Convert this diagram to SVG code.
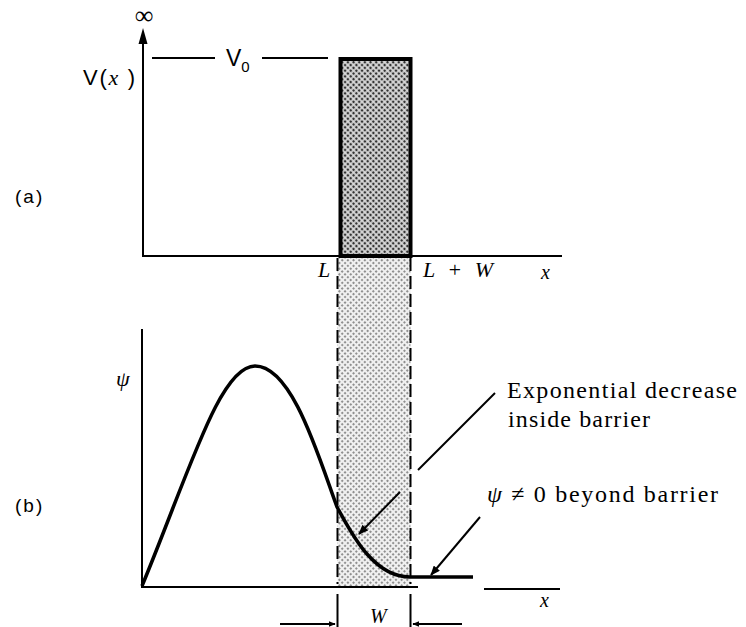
<svg xmlns="http://www.w3.org/2000/svg" width="746" height="627" viewBox="0 0 746 627">
<defs>
<pattern id="dark" patternUnits="userSpaceOnUse" width="4" height="4" patternTransform="rotate(45)">
<rect width="4" height="4" fill="#d8d8d8"/>
<circle cx="2" cy="2" r="1.35" fill="#333"/>
</pattern>
<pattern id="light" patternUnits="userSpaceOnUse" width="4" height="4" patternTransform="rotate(45)">
<rect width="4" height="4" fill="#f0f0f0"/>
<circle cx="2" cy="2" r="0.95" fill="#666"/>
</pattern>
<marker id="ah" viewBox="0 0 10 8" refX="9" refY="4" markerWidth="11" markerHeight="8" markerUnits="userSpaceOnUse" orient="auto">
<path d="M0,0 L10,4 L0,8 Z" fill="#000"/>
</marker>
<marker id="ahs" viewBox="0 0 10 8" refX="9" refY="4" markerWidth="7" markerHeight="6" markerUnits="userSpaceOnUse" orient="auto">
<path d="M0,0 L10,4 L0,8 Z" fill="#000"/>
</marker>
</defs>
<style>
.ln{stroke:#000;fill:none;stroke-width:2}
.sans{font-family:"Liberation Sans",Arial,sans-serif;fill:#000}
.serif{font-family:"Liberation Serif","Times New Roman",serif;fill:#000}
.it{font-style:italic}
</style>
<rect width="746" height="627" fill="#fff"/>

<g id="panel-a">
<rect id="barrier" x="340.5" y="59" width="70" height="197" fill="url(#dark)" stroke="#000" stroke-width="4"/>
<line class="ln" x1="143" y1="257" x2="143" y2="40"/>
<path d="M143,28 L138.5,44 L147.5,44 Z" fill="#000"/>
<line class="ln" x1="142" y1="256" x2="562" y2="256" stroke-width="2.5"/>
<line class="ln" x1="152" y1="58" x2="215" y2="58" stroke-width="1.8"/>
<line class="ln" x1="262" y1="58" x2="328" y2="58" stroke-width="1.8"/>
<text class="serif" x="144" y="24" font-size="26" text-anchor="middle">∞</text>
<text class="sans" x="83" y="85" font-size="22" textLength="52" lengthAdjust="spacing">V(<tspan class="serif it">x</tspan> )</text>
<text class="sans" x="226" y="66" font-size="23">V<tspan font-size="15" dy="6">0</tspan></text>
<text class="sans" x="15" y="203" font-size="19" letter-spacing="2">(a)</text>
<text class="serif it" x="318" y="277" font-size="22">L</text>
<text class="serif it" x="423" y="277" font-size="22" textLength="70" lengthAdjust="spacing">L + W</text>
<text class="serif it" x="541" y="279" font-size="20">x</text>
</g>

<g id="barrier-band">
<rect x="337.5" y="258" width="73" height="328" fill="url(#light)"/>
<line class="ln" x1="337.5" y1="258" x2="337.5" y2="584" stroke-dasharray="13,5"/>
<line class="ln" x1="410.5" y1="258" x2="410.5" y2="584" stroke-dasharray="13,5"/>
</g>

<g id="panel-b">
<line class="ln" x1="142" y1="329" x2="142" y2="587"/>
<line class="ln" x1="141" y1="587" x2="418" y2="587" stroke-width="2.5"/>
<line class="ln" x1="484" y1="589" x2="560" y2="589" stroke-width="2.5"/>
<path id="psi-curve" d="M142,586 C190,470 220,366 255,366 C292,366 318,455 337,507 C350,530 372,577 410,577 L473,577" fill="none" stroke="#000" stroke-width="3.5" stroke-linejoin="round"/>
<text class="serif it" x="116" y="386" font-size="22">ψ</text>
<text class="sans" x="15" y="512" font-size="19" letter-spacing="2">(b)</text>
<text class="serif it" x="540" y="607" font-size="20">x</text>
<text class="serif it" x="370" y="623" font-size="20">W</text>
</g>

<g id="labels">
<text class="serif" x="507" y="398" font-size="24" textLength="230" lengthAdjust="spacing">Exponential decrease</text>
<text class="serif" x="508" y="427" font-size="24" textLength="142" lengthAdjust="spacing">inside barrier</text>
<text class="serif" x="487" y="502" font-size="24" textLength="231" lengthAdjust="spacing"><tspan class="it">ψ</tspan> ≠ 0 beyond barrier</text>
</g>

<g id="connectors">
<line class="ln" x1="418" y1="470" x2="495" y2="393" stroke-width="2.2"/>
<line class="ln" x1="400" y1="492" x2="359" y2="534" stroke-width="2.5" marker-end="url(#ah)"/>
<line class="ln" x1="480" y1="517" x2="431" y2="575" stroke-width="2.5" marker-end="url(#ah)"/>
<line class="ln" x1="337.5" y1="594" x2="337.5" y2="627"/>
<line class="ln" x1="410.5" y1="594" x2="410.5" y2="627"/>
<line class="ln" x1="280" y1="624" x2="335" y2="624" marker-end="url(#ahs)"/>
<line class="ln" x1="462" y1="624" x2="413" y2="624" marker-end="url(#ahs)"/>
</g>
</svg>
